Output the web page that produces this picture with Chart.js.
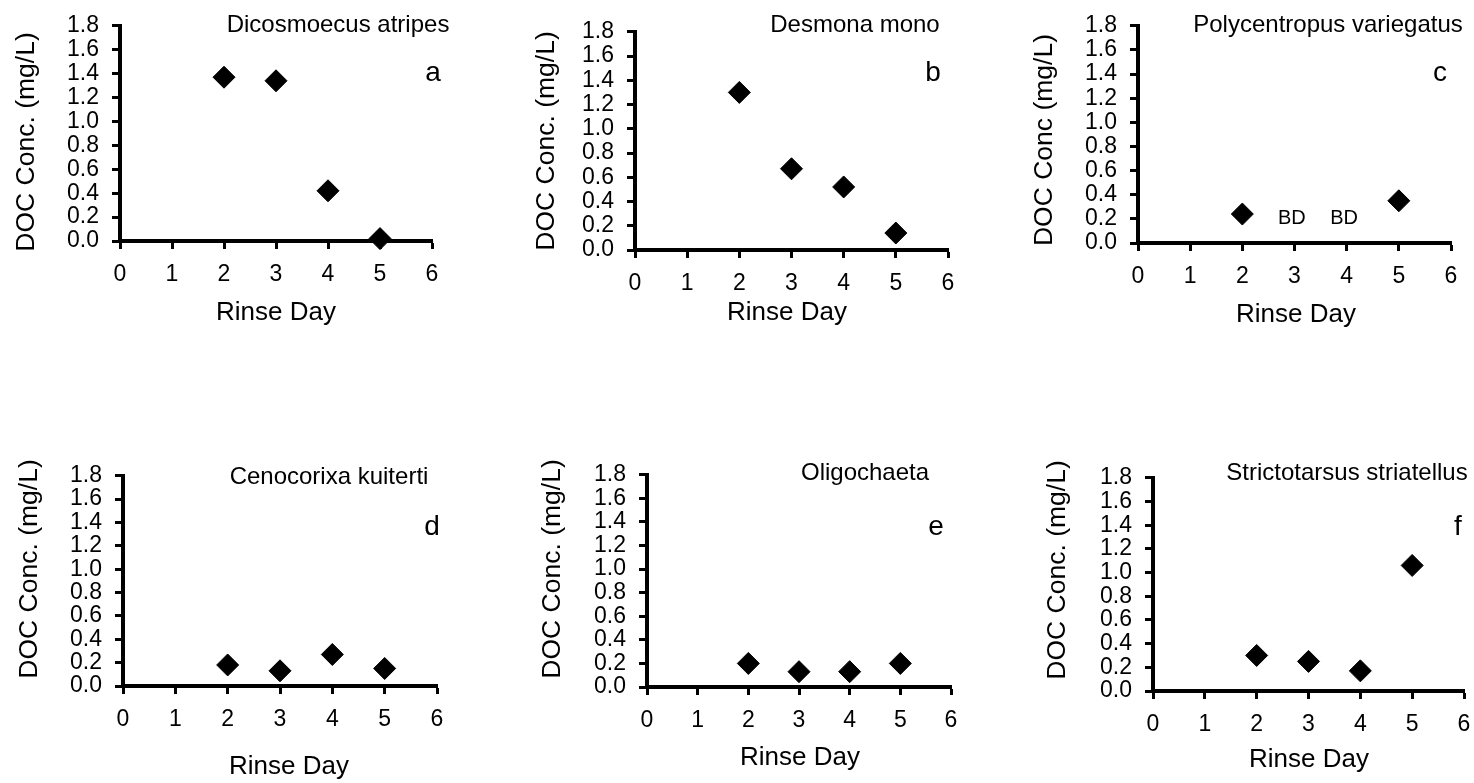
<!DOCTYPE html>
<html>
<head>
<meta charset="utf-8">
<script src="https://cdn.jsdelivr.net/npm/chart.js@4.4.1/dist/chart.umd.min.js"></script>
<style>
  html, body { margin: 0; padding: 0; background: #fff; overflow: hidden; }
  #page { position: relative; width: 1474px; height: 783px; }
  #page canvas { position: absolute; }
</style>
</head>
<body>
<div id="page"></div>
<script>
// rinse days and DOC concentration (mg/L) per taxon
const days = [2, 3, 4, 5];
const dicosmoecus = [1.37, 1.34, 0.42, 0.02];
const desmona = [1.30, 0.67, 0.52, 0.14];
const polycentropus = [0.24, null, null, 0.35];
const cenocorixa = [0.18, 0.13, 0.27, 0.15];
const oligochaeta = [0.20, 0.13, 0.13, 0.20];
const strictotarsus = [0.30, 0.25, 0.17, 1.06];

const species = ["Dicosmoecus atripes", "Desmona mono", "Polycentropus variegatus",
                 "Cenocorixa kuiterti", "Oligochaeta", "Strictotarsus striatellus"];
const letters = ["a", "b", "c", "d", "e", "f"];
const yTitles = ["DOC Conc. (mg/L)", "DOC Conc. (mg/L)", "DOC Conc (mg/L)",
                 "DOC Conc. (mg/L)", "DOC Conc. (mg/L)", "DOC Conc. (mg/L)"];
const xTitle = "Rinse Day";
const bdDays = [3, 4];   // below detection, panel c
const bdLabel = "BD";

const FONT = "'Liberation Sans', Arial, Helvetica, sans-serif";
Chart.defaults.font.family = FONT;
Chart.defaults.color = "#000";

// page pixel layout: chart area [left, top, right, bottom] and text anchors
const panels = [
  { values: dicosmoecus,   area: [120, 19, 432, 241],  name: [338, 25],   letter: [433, 73],   yt: [27, 142],   xt: [276, 313] },
  { values: desmona,       area: [635, 25, 948, 250],  name: [855, 25],   letter: [933, 73],   yt: [547, 141],  xt: [787, 313] },
  { values: polycentropus, area: [1138, 19, 1451, 243], name: [1328, 25], letter: [1440, 73],  yt: [1045, 140], xt: [1296, 315], bd: true },
  { values: cenocorixa,    area: [123, 469, 437, 686], name: [329, 477],  letter: [432, 527],  yt: [30, 569],   xt: [289, 767] },
  { values: oligochaeta,   area: [647, 468, 951, 687], name: [865, 473],  letter: [936, 527],  yt: [553, 569],  xt: [800, 758] },
  { values: strictotarsus, area: [1153, 471, 1464, 691], name: [1347, 473], letter: [1458, 527], yt: [1058, 570], xt: [1309, 760] }
];

const Y_AXIS_W = 120, X_AXIS_H = 100, PAD_TOP = 20, PAD_RIGHT = 40;
const page = document.getElementById("page");

function axisStyle() {
  return {
    grid: { display: true, drawOnChartArea: false, drawTicks: true, tickLength: 8, tickWidth: 3, tickColor: "#000" },
    border: { display: true, color: "#000", width: 4 }
  };
}

panels.forEach((p, i) => {
  const [L, T, R, B] = p.area;
  const left = L - Y_AXIS_W, top = T - PAD_TOP;
  const canvas = document.createElement("canvas");
  canvas.width = Y_AXIS_W + (R - L) + PAD_RIGHT;
  canvas.height = PAD_TOP + (B - T) + X_AXIS_H;
  canvas.style.left = left + "px";
  canvas.style.top = top + "px";
  page.appendChild(canvas);

  const points = [];
  days.forEach((d, k) => {
    if (p.values[k] !== null) points.push({ x: d, y: p.values[k] });
  });

  const panelText = {
    id: "panelText" + i,
    afterDraw(chart) {
      const ctx = chart.ctx;
      ctx.save();
      ctx.fillStyle = "#000";
      ctx.textAlign = "center";
      ctx.textBaseline = "middle";

      ctx.font = "24px " + FONT;
      ctx.fillText(species[i], p.name[0] - left, p.name[1] - top);

      ctx.font = "28px " + FONT;
      ctx.fillText(letters[i], p.letter[0] - left, p.letter[1] - top);

      ctx.font = "26px " + FONT;
      ctx.fillText(xTitle, p.xt[0] - left, p.xt[1] - top);

      ctx.save();
      ctx.font = "26.5px " + FONT;
      ctx.translate(p.yt[0] - left, p.yt[1] - top);
      ctx.rotate(-Math.PI / 2);
      ctx.fillText(yTitles[i], 0, 0);
      ctx.restore();

      if (p.bd) {
        const xs = chart.scales.x, ys = chart.scales.y;
        ctx.font = "20px " + FONT;
        bdDays.forEach(d => {
          ctx.fillText(bdLabel, xs.getPixelForValue(d - 0.05), ys.getPixelForValue(0.2));
        });
      }
      ctx.restore();
    }
  };

  new Chart(canvas, {
    type: "scatter",
    data: {
      datasets: [{
        data: points,
        pointStyle: "rectRot",
        pointRadius: 11,
        pointHoverRadius: 11,
        backgroundColor: "#000",
        borderColor: "#000",
        borderWidth: 1,
        clip: false
      }]
    },
    options: {
      responsive: false,
      animation: false,
      events: [],
      layout: { padding: { left: 0, top: PAD_TOP, right: PAD_RIGHT, bottom: 0 } },
      plugins: { legend: { display: false }, tooltip: { enabled: false } },
      scales: {
        x: {
          type: "linear",
          min: 0,
          max: 6,
          ...axisStyle(),
          ticks: { stepSize: 1, padding: 12, autoSkip: false, font: { size: 23 }, color: "#000" },
          afterFit(scale) { scale.height = X_AXIS_H; }
        },
        y: {
          type: "linear",
          min: 0,
          max: 1.8,
          ...axisStyle(),
          ticks: {
            stepSize: 0.2,
            padding: 13,
            autoSkip: false,
            font: { size: 23 },
            color: "#000",
            callback: v => v.toFixed(1)
          },
          afterFit(scale) { scale.width = Y_AXIS_W; }
        }
      }
    },
    plugins: [panelText]
  });
});
</script>
</body>
</html>
